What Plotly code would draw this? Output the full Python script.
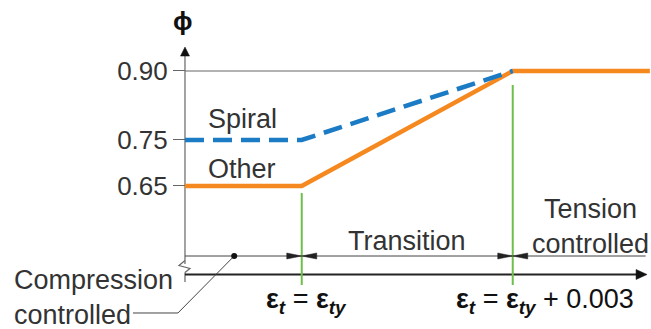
import plotly.graph_objects as go

# strain in per mille (schematic, axis is broken near the origin)
eps_ty = 2.07
eps_tension = eps_ty + 3.0
x_origin = 0.41
x_end = 7.02

phi_ticks = [0.65, 0.75, 0.90]
phi_ticktext = ["0.65", "0.75", "0.90"]

strain_other = [x_origin, eps_ty, eps_tension, x_end]
phi_other = [0.65, 0.65, 0.90, 0.90]

strain_spiral = [x_origin, eps_ty, eps_tension]
phi_spiral = [0.75, 0.75, 0.90]

x_range = [-2.22, 7.036]
y_range = [0.3391, 1.0543]

# levels for the decorations below the curves
y_zone = 0.4978       # zone arrows line
y_xaxis = 0.4576      # strain axis
y_bottom = 0.4347     # bottom of green markers
y_axis_top = 0.952
y_break = 0.475
dot_x = 1.11

orange = "#f5891f"
blue = "#1b7bc4"
green = "#6cbf4b"
grey = "#555555"
text_col = "#333333"
font = "Liberation Sans, Arial, sans-serif"
fsize = 27

fig = go.Figure()

fig.add_trace(go.Scatter(x=strain_other, y=phi_other, mode="lines",
                         line=dict(color=orange, width=4.5), cliponaxis=False))
fig.add_trace(go.Scatter(x=strain_spiral, y=phi_spiral, mode="lines",
                         line=dict(color=blue, width=4.5, dash="19px,9px"), cliponaxis=False))
fig.add_trace(go.Scatter(x=[dot_x], y=[y_zone], mode="markers",
                         marker=dict(color="#111111", size=6), cliponaxis=False))

shapes = []

def line(x0, y0, x1, y1, color=grey, width=1):
    shapes.append(dict(type="line", xref="x", yref="y", x0=x0, y0=y0, x1=x1, y1=y1,
                       line=dict(color=color, width=width), layer="below"))

def head(x, y, direction, length=15, half=3, color="#222222"):
    # triangle in pixels, tip at (x, y)
    if direction == "right":
        path = f"M0,0 L{-length},{half} L{-length},{-half} Z"
    elif direction == "left":
        path = f"M0,0 L{length},{half} L{length},{-half} Z"
    else:
        path = f"M0,0 L{half},{-length} L{-half},{-length} Z"
    shapes.append(dict(type="path", xref="x", yref="y", xsizemode="pixel", ysizemode="pixel",
                       xanchor=x, yanchor=y, path=path, fillcolor=color,
                       line=dict(color=color, width=0.5)))

# phi = 0.90 reference line
line(x_origin, 0.90, 4.79, 0.90, color="#666666", width=1.2)

# y axis with break
line(x_origin, 0.4805, x_origin, y_axis_top - 0.01, color="#666666", width=1.2)
line(x_origin, 0.4413, x_origin, 0.462, color="#666666", width=1.2)
shapes.append(dict(type="path", xref="x", yref="y", xsizemode="pixel", ysizemode="pixel",
                   xanchor=x_origin, yanchor=y_break,
                   path="M0,6 L-6,1 L5,-2 L0,-6", line=dict(color="#666666", width=1.2)))
head(x_origin, y_axis_top, "up", length=9, half=4.5, color="#111111")

# strain axis
line(x_origin, y_xaxis, 6.9, y_xaxis, color="#222222", width=2.2)
head(6.98, y_xaxis, "right", length=11, half=5, color="#111111")

# zone line and arrows
line(x_origin, y_zone, 6.96, y_zone, color="#444444", width=1)
head(eps_ty, y_zone, "right")
head(eps_ty, y_zone, "left")
head(eps_tension, y_zone, "right")
head(eps_tension, y_zone, "left")

# green markers at the limits
line(eps_ty, y_bottom, eps_ty, 0.6347, color=green, width=2)
line(eps_tension, y_bottom, eps_tension, 0.8695, color=green, width=2)

# leader line for compression controlled
line(dot_x, y_zone, 0.31, 0.3739, color="#444444", width=1)
line(0.31, 0.3739, -0.33, 0.3739, color="#444444", width=1)

annotations = [
    dict(x=x_origin, y=1.0085, text="<b>ϕ</b>", xshift=-2, font=dict(size=26, color="#111111")),
    dict(x=x_origin, y=0.7956, text="Spiral", xanchor="left", xshift=21),
    dict(x=x_origin, y=0.6869, text="Other", xanchor="left", xshift=21),
    dict(x=(eps_ty + eps_tension) / 2, y=0.5304, text="Transition"),
    dict(x=6.18, y=0.5619, text="Tension<br>controlled", align="center"),
    dict(x=-2.049, y=0.4076, text="Compression<br>controlled", xanchor="left", align="left"),
    dict(x=eps_ty, y=0.4005, xshift=5,
         text="<b>ε</b><sub><b><i>t</i></b></sub> = <b>ε</b><sub><b><i>ty</i></b></sub>",
         font=dict(size=fsize, color="#111111")),
    dict(x=eps_tension, y=0.4005, xshift=32,
         text="<b>ε</b><sub><b><i>t</i></b></sub> = <b>ε</b><sub><b><i>ty</i></b></sub> + 0.003",
         font=dict(size=fsize, color="#111111")),
]
for a in annotations:
    a.setdefault("xref", "x")
    a.setdefault("yref", "y")
    a.setdefault("showarrow", False)
    a.setdefault("font", dict(size=fsize, color=text_col))

fig.update_layout(
    width=651, height=329,
    margin=dict(l=0, r=0, t=0, b=0, autoexpand=False),
    paper_bgcolor="white", plot_bgcolor="white",
    showlegend=False,
    font=dict(family=font, size=fsize, color=text_col),
    shapes=shapes,
    annotations=annotations,
    xaxis=dict(range=x_range, visible=False, fixedrange=True),
    yaxis=dict(range=y_range, anchor="free",
               position=(x_origin - x_range[0]) / (x_range[1] - x_range[0]),
               tickvals=phi_ticks, ticktext=phi_ticktext,
               ticks="outside", ticklen=12, tickwidth=1.2, tickcolor="#666666",
               tickfont=dict(size=26, color=text_col),
               showline=False, showgrid=False, zeroline=False, fixedrange=True),
)

# drop the default page margin so the figure fills the window
fig.write_html("out.html", config={"displayModeBar": False},
               post_script="document.body.style.margin='0';document.body.style.overflow='hidden';")
